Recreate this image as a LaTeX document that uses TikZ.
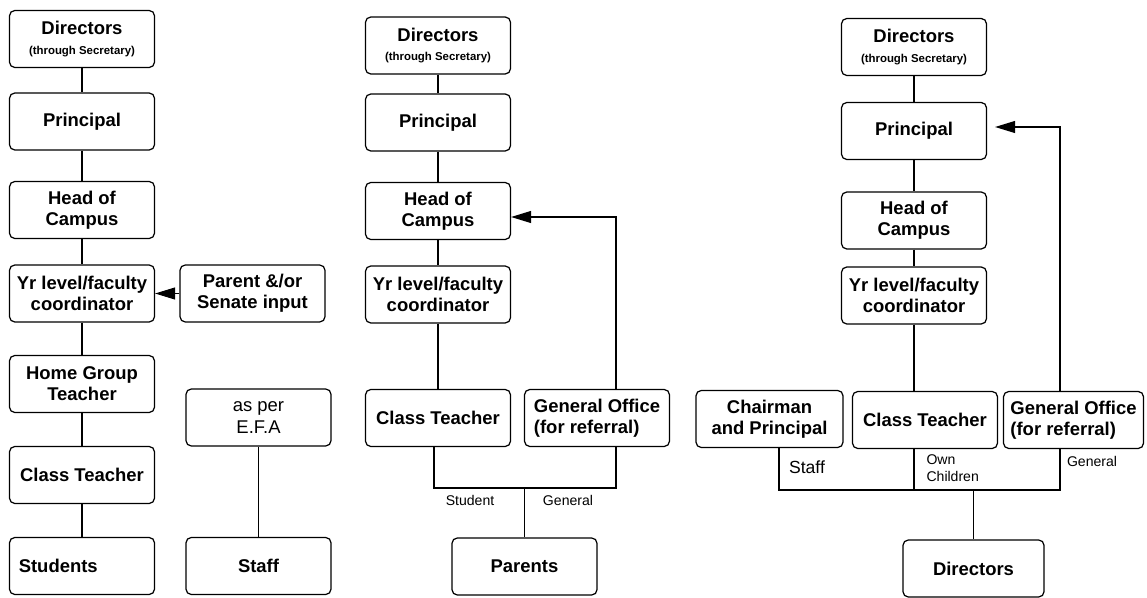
\documentclass[tikz,border=0pt]{standalone}
\usepackage{fontspec}
\setmainfont{Liberation Sans}
\usetikzlibrary{arrows.meta}
\tikzset{
  box/.style={draw, line width=0.7pt, rounded corners=3pt, minimum width=2.9cm,
    minimum height=1.14cm, align=center, inner sep=1pt,
    font=\fontsize{10.5}{12}\selectfont\bfseries},
  plainbox/.style={box, font=\fontsize{10.5}{12}\selectfont},
  lbl/.style={font=\fontsize{8}{9.5}\selectfont, inner sep=0pt},
  tip/.style={-{Triangle[length=0.4cm,width=0.24cm]}},
}
\newcommand{\smalltxt}[1]{{\fontsize{6.5}{7.5}\selectfont #1}}
\begin{document}
\begin{tikzpicture}[line width=0.6pt]
    \useasboundingbox (0,0) rectangle (22.94,-11.96);

    % students / staff
    \node[box] (dirA) at (1.64, -0.78) {Directors\\[-1pt]\smalltxt{(through Secretary)}};
    \node[box] (prinA) at (1.64, -2.43) {Principal};
    \node[box] (headA) at (1.64, -4.2) {Head of\\Campus};
    \node[box] (yrA) at (1.64, -5.87) {Yr level/faculty\\coordinator};
    \node[box] (parA) at (5.05, -5.87) {Parent \&/or\\Senate input};
    \node[box] (homeA) at (1.64, -7.68) {Home Group\\Teacher};
    \node[box] (classA) at (1.64, -9.5) {Class Teacher};
    \node[box] (studA) at (1.64, -11.32) {Students\hspace*{0.95cm}};
    \node[plainbox] (efaA) at (5.17, -8.35) {as per\\E.F.A};
    \node[box] (staffA) at (5.17, -11.32) {Staff};

    % parents
    \node[box] (dirB) at (8.76, -0.91) {Directors\\[-1pt]\smalltxt{(through Secretary)}};
    \node[box] (prinB) at (8.76, -2.45) {Principal};
    \node[box] (headB) at (8.76, -4.22) {Head of\\Campus};
    \node[box] (yrB) at (8.76, -5.89) {Yr level/faculty\\coordinator};
    \node[box] (classB) at (8.76, -8.36) {Class Teacher};
    \node[box, align=left] (genB) at (11.94, -8.36) {General Office\\(for referral)};
    \node[box] (parentsB) at (10.49, -11.33) {Parents};

    % directors
    \node[box] (dirC) at (18.28, -0.94) {Directors\\[-1pt]\smalltxt{(through Secretary)}};
    \node[box] (prinC) at (18.28, -2.62) {Principal};
    \node[box] (headC) at (18.28, -4.41) {Head of\\Campus};
    \node[box] (yrC) at (18.28, -5.91) {Yr level/faculty\\coordinator};
    \node[box, minimum width=2.94cm] (chairC) at (15.39, -8.38) {Chairman\\and Principal};
    \node[box] (classC) at (18.5, -8.4) {Class Teacher};
    \node[box, align=left, minimum width=2.8cm] (genC) at (21.47, -8.4) {General Office\\(for referral)};
    \node[box, minimum width=2.82cm] (dirD) at (19.47, -11.37) {Directors};

    % lines
    \foreach \u/\v in {dirA/prinA, prinA/headA, headA/yrA, yrA/homeA, homeA/classA,
        classA/studA, efaA/staffA, dirB/prinB, prinB/headB, headB/yrB, yrB/classB,
        dirC/prinC, prinC/headC, headC/yrC}
      \draw (\u) -- (\v);
    \draw[tip] (parA) -- (yrA);

    \coordinate (turnB) at (12.32, -4.34);
    \coordinate (joinB) at (8.68, -9.76);
    \draw[tip] (genB.north -| turnB) -- (turnB) -- (turnB -| headB.east);
    \draw (classB.south -| joinB) -- (joinB) -- (joinB -| turnB) -- (genB.south -| turnB);
    \draw (parentsB |- joinB) -- (parentsB);

    \coordinate (turnC) at (21.2, -2.54);
    \coordinate (joinC) at (15.58, -9.8);
    \draw[tip, shorten >=0.16cm] (genC.north -| turnC) -- (turnC) -- (turnC -| prinC.east);
    \draw (yrC) -- (yrC |- classC.north);
    \draw (chairC.south -| joinC) -- (joinC) -- (joinC -| turnC) -- (genC.south -| turnC);
    \draw (classC.south -| yrC) -- (yrC |- joinC);
    \draw (dirD |- joinC) -- (dirD);

    % labels
    \node[lbl] (lblStudent) at (9.4, -10.0) {Student};
    \node[lbl] (lblGenB) at (11.36, -10.0) {General};
    \node[lbl, font=\fontsize{10}{11.5}\selectfont] (lblStaff) at (16.14, -9.34) {Staff};
    \node[lbl, anchor=west, align=left] (lblOwn) at (18.52, -9.37) {Own\\Children};
    \node[lbl] (lblGenC) at (21.84, -9.22) {General};

  \end{tikzpicture}
\end{document}
